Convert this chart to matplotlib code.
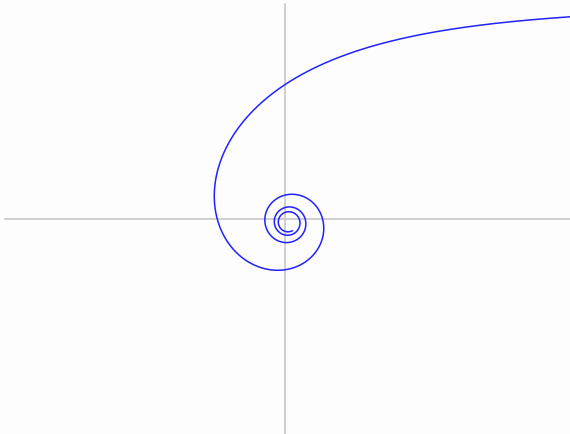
import numpy as np
import matplotlib
matplotlib.use("Agg")
import matplotlib.pyplot as plt

# hyperbolic spiral r = A / theta, centre slightly off the axes crossing
A = 220.0                 # asymptote height, in pixel units
THETA_START = 0.3
THETA_END = 24.0
X0, Y0 = 3.3, -3.5        # spiral centre relative to the axes origin

W, H = 570, 434
CX, CY = 285, 219         # axes origin in pixels

theta = np.linspace(THETA_START, THETA_END, 4000)
r = A / theta
x = X0 + r * np.cos(theta)
y = Y0 + r * np.sin(theta)

fig = plt.figure(figsize=(W / 100, H / 100), dpi=100)
fig.patch.set_facecolor("#fdfdfd")
ax = fig.add_axes([0, 0, 1, 1])
ax.set_facecolor("#fdfdfd")
ax.set_xlim(-CX, W - CX)
ax.set_ylim(-(H - CY), CY)
ax.axis("off")

# axes through the origin
ax.plot([5 - CX, W - CX], [0, 0], color="#c8c8c8", lw=1.2)
ax.plot([0, 0], [-(H - CY), CY - 4], color="#c8c8c8", lw=1.2)

ax.plot(x, y, color="#2222ff", lw=1.1)

fig.savefig("out.png", dpi=100, facecolor=fig.get_facecolor())
